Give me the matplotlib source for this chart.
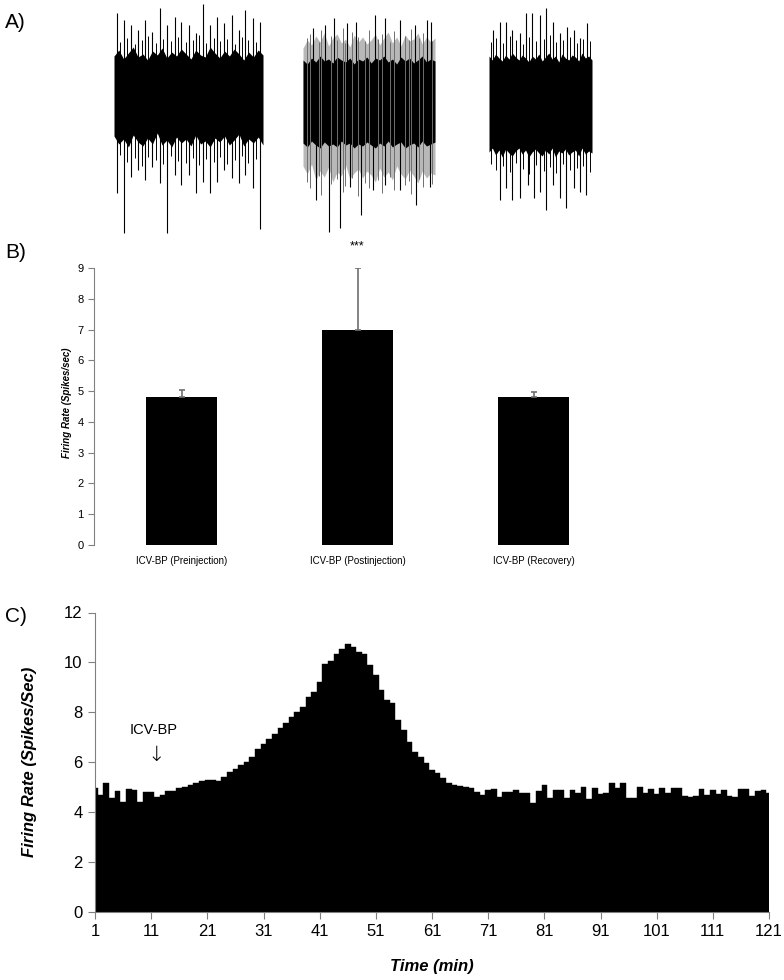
import matplotlib
matplotlib.use("Agg")
import matplotlib.pyplot as plt
import numpy as np

FIG_W, FIG_H = 784, 980
NARROW = ["Liberation Sans Narrow", "Liberation Sans", "DejaVu Sans"]
SANS = ["Liberation Sans", "DejaVu Sans"]

# ---- panel A: extracellular traces (amplitude in uV, time as fraction of sweep)
T1_SPIKE_T = [0.017, 0.067, 0.114, 0.164, 0.208, 0.258, 0.309, 0.359, 0.409, 0.450, 0.503,
              0.550, 0.597, 0.644, 0.688, 0.738, 0.789, 0.839, 0.879, 0.930, 0.980]
T1_SPIKE_UP = [87, 80, 75, 70, 80, 68, 92, 75, 83, 78, 75, 67, 96, 75, 83, 77, 85, 70, 90, 82, 78]
T1_SPIKE_DOWN = [-93, -133, -77, -70, -80, -67, -83, -133, -75, -85, -75, -93, -82, -93, -82,
                 -70, -78, -83, -75, -88, -129]
T1_MID_T = [0.04, 0.09, 0.14, 0.19, 0.23, 0.28, 0.33, 0.38, 0.43, 0.48, 0.53, 0.57, 0.62,
            0.67, 0.71, 0.76, 0.81, 0.86, 0.90, 0.95]
T1_MID_UP = [58, 62, 56, 60, 64, 57, 61, 59, 63, 58, 60, 65, 57, 62, 59, 61, 56, 63, 60, 58]
T1_MID_DOWN = [-55, -62, -58, -66, -57, -60, -64, -56, -61, -63, -58, -65, -59, -62, -57, -64,
               -60, -56, -63, -59]
T1_TOP = [44, 50, 41, 47, 53, 43, 46, 40, 49, 45, 52, 42, 48, 44, 51, 46,
          41, 50, 45, 43, 53, 47, 42, 49, 44, 51, 46, 40, 48, 43, 50, 45]
T1_BOT = [-36, -44, -39, -47, -35, -42, -46, -38, -44, -33, -45, -40, -47, -37, -43, -39,
          -46, -35, -44, -41, -47, -38, -42, -36, -45, -40, -34, -46, -39, -43, -37, -45]

T2_UP_T = [0.072, 0.167, 0.235, 0.337, 0.400, 0.545, 0.621, 0.735, 0.848, 0.943, 0.970]
T2_SPIKE_UP = [72, 75, 82, 77, 78, 85, 82, 80, 75, 80, 78]
T2_DOWN_T = [0.098, 0.197, 0.280, 0.356, 0.443, 0.527, 0.621, 0.735, 0.856, 0.962]
T2_SPIKE_DOWN = [-100, -132, -128, -87, -115, -90, -85, -90, -105, -87]
T2_MID_T = [0.03, 0.05, 0.12, 0.14, 0.21, 0.26, 0.30, 0.32, 0.37, 0.42, 0.47, 0.50, 0.57,
            0.60, 0.66, 0.69, 0.77, 0.80, 0.82, 0.88, 0.91, 0.98]
T2_MID_UP = [62, 66, 58, 70, 64, 60, 72, 57, 68, 63, 59, 70, 61, 66, 58, 69, 64, 60, 71, 62, 67, 59]
T2_MID_DOWN = [-82, -88, -76, -95, -84, -79, -92, -86, -78, -96, -83, -88, -80, -93, -77,
               -90, -85, -81, -94, -79, -87, -84]
T2_TOP = [40, 36, 42, 38, 44, 39, 41, 37, 43, 40, 38, 42, 36, 41, 39, 43,
          37, 42, 40, 44, 38, 41, 36, 43, 39, 42, 37, 40, 44, 38, 41, 39]
T2_BOT = [-43, -47, -41, -45, -48, -42, -46, -44, -47, -41, -45, -43, -48, -44, -46, -42,
          -45, -48, -43, -46, -41, -47, -44, -42, -48, -45, -43, -47, -41, -46, -44, -42]
T2_GRAY_TOP = [52, 60, 55, 64, 58, 67, 54, 62, 66, 57, 61, 53, 65, 58, 63, 56,
               60, 66, 55, 62, 68, 57, 63, 54, 65, 59, 61, 67, 56, 63, 58, 62]
T2_GRAY_BOT = [-66, -74, -64, -80, -71, -77, -67, -82, -72, -76, -65, -79, -73, -69, -78, -71,
               -75, -82, -68, -77, -72, -80, -66, -74, -79, -70, -76, -83, -71, -78, -73, -75]

T3_UP_T = [0.034, 0.107, 0.165, 0.228, 0.301, 0.364, 0.422, 0.495, 0.558, 0.617, 0.689,
           0.762, 0.825, 0.883, 0.956]
T3_SPIKE_UP = [70, 78, 78, 70, 67, 87, 87, 85, 92, 78, 67, 73, 70, 62, 77]
T3_DOWN_T = [0.107, 0.165, 0.228, 0.301, 0.374, 0.437, 0.495, 0.558, 0.617, 0.689, 0.752,
             0.825, 0.883, 0.942]
T3_SPIKE_DOWN = [-100, -88, -100, -98, -85, -98, -92, -110, -85, -98, -108, -88, -92, -95]
T3_MID_T = [0.02, 0.07, 0.14, 0.20, 0.26, 0.33, 0.39, 0.46, 0.53, 0.59, 0.65, 0.72,
            0.79, 0.85, 0.91, 0.98]
T3_MID_UP = [58, 62, 57, 64, 60, 56, 63, 59, 61, 65, 58, 60, 63, 57, 61, 59]
T3_MID_DOWN = [-64, -70, -66, -72, -63, -69, -74, -65, -71, -67, -73, -64, -70, -68, -66, -72]
T3_TOP = [44, 40, 46, 42, 39, 45, 41, 47, 43, 40, 45, 42, 38, 44, 41, 46,
          39, 43, 47, 41, 44, 38, 46, 42, 40, 45, 43, 39, 47, 42, 44, 40]
T3_BOT = [-52, -48, -55, -50, -57, -49, -53, -56, -51, -48, -54, -50, -57, -52, -49, -53,
          -56, -50, -54, -48, -57, -51, -53, -49, -55, -52, -50, -56, -48, -54, -51, -53]

# ---- panel B: mean firing rate
CONDITIONS = ["ICV-BP (Preinjection)", "ICV-BP (Postinjection)", "ICV-BP (Recovery)"]
MEAN_RATE = [4.8, 7.0, 4.8]
SEM_RATE = [0.25, 2.0, 0.17]

# ---- panel C: rate histogram, one bin per minute
MINUTES = list(range(1, 122))
RATE = [4.96, 4.70, 5.16, 4.56, 4.84, 4.40, 4.92, 4.87, 4.40, 4.80,
        4.80, 4.60, 4.70, 4.85, 4.85, 4.95, 5.00, 5.07, 5.15, 5.25,
        5.30, 5.30, 5.25, 5.40, 5.62, 5.72, 5.87, 6.00, 6.20, 6.55,
        6.75, 6.95, 7.15, 7.38, 7.58, 7.80, 8.00, 8.22, 8.60, 8.80,
        9.21, 9.95, 10.05, 10.35, 10.55, 10.75, 10.60, 10.40, 10.35, 9.88,
        9.48, 8.88, 8.48, 8.37, 7.70, 7.28, 6.81, 6.41, 6.21, 5.95,
        5.68, 5.56, 5.36, 5.16, 5.08, 5.04, 5.01, 4.95, 4.81, 4.70,
        4.90, 4.93, 4.60, 4.82, 4.80, 4.89, 4.78, 4.78, 4.38, 4.83,
        5.08, 4.57, 4.88, 4.88, 4.55, 4.88, 4.77, 5.01, 4.51, 4.95,
        4.72, 4.77, 5.15, 4.95, 5.15, 4.57, 4.57, 5.01, 4.76, 4.92,
        4.72, 4.97, 4.76, 4.97, 4.97, 4.63, 4.60, 4.65, 4.92, 4.70,
        4.88, 4.72, 4.88, 4.65, 4.60, 4.92, 4.92, 4.65, 4.85, 4.88,
        4.75]


def px_axes(fig, left, top, right, bottom):
    return fig.add_axes([left / FIG_W, 1 - bottom / FIG_H,
                         (right - left) / FIG_W, (bottom - top) / FIG_H])


def draw_trace(ax, top, bot, up_t, up, down_t, down, mid_t, mid_up, mid_down,
               mid_color="black", gray_top=None, gray_bot=None):
    t = np.linspace(0, 1, len(top))
    if gray_top is not None:
        ax.fill_between(t, gray_bot, gray_top, color="#b8b8b8", lw=0)
    ax.vlines(mid_t, mid_down, mid_up, color=mid_color, lw=0.7)
    ax.fill_between(t, bot, top, color="black", lw=0)
    ax.vlines(up_t, 0, up, color="black", lw=0.8)
    ax.vlines(down_t, down, 0, color="black", lw=0.8)
    ax.set_xlim(0, 1)
    ax.set_ylim(-140, 100)
    ax.axis("off")


def main():
    fig = plt.figure(figsize=(FIG_W / 100, FIG_H / 100), dpi=100)

    # A) raw traces
    draw_trace(px_axes(fig, 114, 0, 263, 240), T1_TOP, T1_BOT,
               T1_SPIKE_T, T1_SPIKE_UP, T1_SPIKE_T, T1_SPIKE_DOWN,
               T1_MID_T, T1_MID_UP, T1_MID_DOWN)
    draw_trace(px_axes(fig, 303, 0, 435, 240), T2_TOP, T2_BOT,
               T2_UP_T, T2_SPIKE_UP, T2_DOWN_T, T2_SPIKE_DOWN,
               T2_MID_T, T2_MID_UP, T2_MID_DOWN, "#6e6e6e", T2_GRAY_TOP, T2_GRAY_BOT)
    draw_trace(px_axes(fig, 489, 0, 592, 240), T3_TOP, T3_BOT,
               T3_UP_T, T3_SPIKE_UP, T3_DOWN_T, T3_SPIKE_DOWN,
               T3_MID_T, T3_MID_UP, T3_MID_DOWN)

    # B) bar chart
    axb = px_axes(fig, 93.5, 268, 621.5, 545)
    xb = np.arange(len(CONDITIONS))
    axb.bar(xb, MEAN_RATE, width=0.4, color="black")
    axb.errorbar(xb, MEAN_RATE, yerr=[np.zeros(3), SEM_RATE], fmt="none",
                 ecolor="#707070", elinewidth=1.2, capsize=2, capthick=1.2)
    axb.text(1, 9.7, "***", ha="center", va="center", fontsize=9, family=SANS)
    axb.set_xlim(-0.5, 2.5)
    axb.set_ylim(0, 9)
    axb.set_yticks(range(10))
    axb.set_xticks(xb)
    axb.set_xticklabels(CONDITIONS, family=NARROW, fontsize=7)
    for lab in axb.get_yticklabels():
        lab.set_family(NARROW)
        lab.set_fontsize(8)
    axb.tick_params(axis="x", length=0, pad=8)
    axb.tick_params(axis="y", direction="out", length=4, color="#808080", pad=3)
    for side in ["top", "right", "bottom"]:
        axb.spines[side].set_visible(False)
    axb.spines["left"].set_color("#808080")
    fig.text(67.5 / FIG_W, 1 - 403 / FIG_H, "Firing Rate (Spikes/sec)", rotation=90,
             ha="center", va="center", fontsize=7, fontweight="bold", fontstyle="italic",
             family=SANS)

    # C) firing rate over time
    axc = px_axes(fig, 95, 612.5, 769, 912)
    axc.bar(MINUTES, RATE, width=1.0, color="black", edgecolor="black", linewidth=0.3)
    axc.set_xlim(1, 121)
    axc.set_ylim(0, 12)
    axc.set_xticks(range(1, 122, 10))
    axc.set_yticks(range(0, 13, 2))
    for lab in axc.get_xticklabels() + axc.get_yticklabels():
        lab.set_family(NARROW)
        lab.set_fontsize(12)
    axc.tick_params(direction="out", length=5, color="#808080", pad=4)
    for side in ["top", "right"]:
        axc.spines[side].set_visible(False)
    axc.spines["left"].set_color("#808080")
    axc.spines["bottom"].set_color("#808080")
    axc.text(11.5, 7.3, "ICV-BP", ha="center", va="center", fontsize=10.5, family=SANS)
    axc.text(11.9, 6.3, "\u2193", ha="center", va="center", fontsize=15,
             family=["DejaVu Sans"], fontweight="light")
    fig.text(30 / FIG_W, 1 - 762 / FIG_H, "Firing Rate (Spikes/Sec)", rotation=90,
             ha="center", va="center", fontsize=12, fontweight="bold", fontstyle="italic",
             family=SANS)
    fig.text(432 / FIG_W, 1 - 966 / FIG_H, "Time (min)", ha="center", va="center",
             fontsize=12, fontweight="bold", fontstyle="italic", family=SANS)

    for label, y in [("A)", 22), ("B)", 253), ("C)", 617)]:
        fig.text(5 / FIG_W, 1 - y / FIG_H, label, ha="left", va="center",
                 fontsize=15, family=SANS)

    fig.savefig("out.png", dpi=100, facecolor="white")


if __name__ == "__main__":
    main()
